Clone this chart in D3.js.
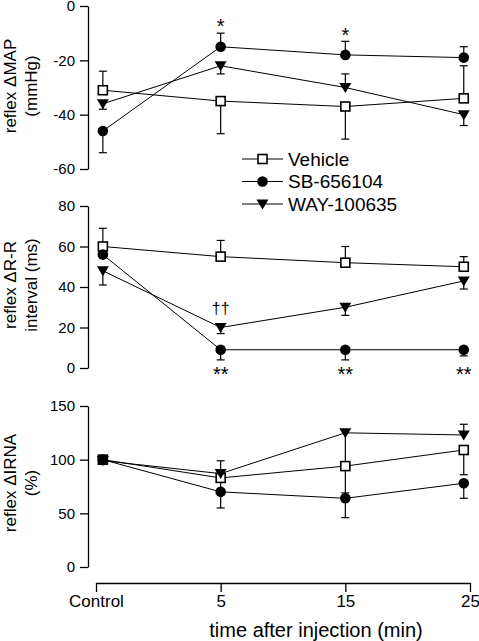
<!DOCTYPE html>
<html><head><meta charset="utf-8">
<script src="https://cdn.jsdelivr.net/npm/d3@7"></script>
<style>body{margin:0;background:#fff}svg{display:block}text{font-family:"Liberation Sans",Arial,sans-serif;fill:#000}</style>
</head><body>
<script>
// ---- data ----
const categories = ["Control", "5", "15", "25"];
const xPos = [0.055, 1, 2, 2.95];
const seriesNames = ["Vehicle", "SB-656104", "WAY-100635"];

const mapVehicle = [-31, -35, -37, -34];
const mapVehicleErr = [-24, -47, -49, -22];
const mapSB = [-46, -15, -18, -19];
const mapSBErr = [-54, -10, -13, -15];
const mapWAY = [-36, -22, -30, -40];
const mapWAYErr = [-38, -25, -25, -44];

const rrVehicle = [60, 55, 52, 50];
const rrVehicleErr = [69, 63, 60, 55];
const rrSB = [56, 9, 9, 9];
const rrSBErr = [56, 4, 4, 6];
const rrWAY = [48, 20, 30, 43];
const rrWAYErr = [41, 17, 26, 39];

const irVehicle = [100, 83, 94, 109];
const irVehicleErr = [100, 72, 69, 86];
const irSB = [100, 70, 64, 78];
const irSBErr = [100, 55, 46, 64];
const irWAY = [99, 87, 125, 123];
const irWAYErr = [99, 99, 95, 133];

const mapTicks = [0, -20, -40, -60];
const rrTicks = [0, 20, 40, 60, 80];
const irTicks = [0, 50, 100, 150];

const mapMarks = [{i: 1, v: -5.7, t: "*"}, {i: 2, v: -9.0, t: "*"}];
const rrMarks = [{i: 1, v: 29.3, t: "\u2020\u2020"}, {i: 1, v: -0.8, t: "**"}, {i: 2, v: -0.8, t: "**"}, {i: 3, v: -0.8, t: "**"}];

// ---- layout ----
const W = 479, H = 641;
const svg = d3.select("body").append("svg").attr("width", W).attr("height", H);
const x = d3.scaleLinear().domain([0, 3]).range([96, 470]);
const axisX = 88;

const panels = [
  {domain: [-60, 0], range: [169, 6], ticks: mapTicks, title: ["reflex \u0394MAP", "(mmHg)"], tc: 86,
   series: [[mapVehicle, mapVehicleErr], [mapSB, mapSBErr], [mapWAY, mapWAYErr]], marks: mapMarks},
  {domain: [0, 80], range: [368, 206], ticks: rrTicks, title: ["reflex \u0394R-R", "interval (ms)"], tc: 285,
   series: [[rrVehicle, rrVehicleErr], [rrSB, rrSBErr], [rrWAY, rrWAYErr]], marks: rrMarks},
  {domain: [0, 150], range: [567, 406], ticks: irTicks, title: ["reflex \u0394IRNA", "(%)"], tc: 483,
   series: [[irVehicle, irVehicleErr], [irSB, irSBErr], [irWAY, irWAYErr]], marks: []}
];

function drawMarker(g, type, cx, cy) {
  if (type === 0) {
    g.append("rect").attr("x", cx - 4.5).attr("y", cy - 4.5).attr("width", 9).attr("height", 9)
      .attr("fill", "#fff").attr("stroke", "#000").attr("stroke-width", 1.6);
  } else if (type === 1) {
    g.append("circle").attr("cx", cx).attr("cy", cy).attr("r", 5.3).attr("fill", "#000");
  } else {
    g.append("path").attr("d", `M${cx - 6},${cy - 4.5}L${cx + 6},${cy - 4.5}L${cx},${cy + 5.5}Z`).attr("fill", "#000");
  }
}

panels.forEach(p => {
  const y = d3.scaleLinear().domain(p.domain).range(p.range);
  const g = svg.append("g");
  const ax = g.append("g").attr("transform", `translate(${axisX},0)`)
    .call(d3.axisLeft(y).tickValues(p.ticks).tickSize(8).tickSizeOuter(0).tickPadding(5).tickFormat(d3.format("d")));
  ax.select(".domain").attr("stroke-width", 1.3);
  ax.selectAll(".tick line").attr("stroke-width", 1.3);
  ax.selectAll("text").style("font-size", "15px").text(d => d < 0 ? "-" + Math.abs(d) : d);

  // y title
  p.title.forEach((t, k) => {
    g.append("text").attr("transform", `translate(${k === 0 ? 10 : 31},${p.tc}) rotate(-90)`)
      .attr("text-anchor", "middle").attr("dominant-baseline", "central")
      .style("font-size", "17px").text(t);
  });

  // series
  p.series.forEach(([vals, errs], s) => {
    const sg = g.append("g");
    sg.append("path").attr("d", d3.line().x((d, i) => x(xPos[i])).y(d => y(d))(vals))
      .attr("fill", "none").attr("stroke", "#000").attr("stroke-width", 1);
    vals.forEach((v, i) => {
      if (errs[i] === v) return;
      const cx = x(xPos[i]);
      sg.append("line").attr("x1", cx).attr("x2", cx).attr("y1", y(v)).attr("y2", y(errs[i]))
        .attr("stroke", "#000").attr("stroke-width", 1.2);
      sg.append("line").attr("x1", cx - 4).attr("x2", cx + 4).attr("y1", y(errs[i])).attr("y2", y(errs[i]))
        .attr("stroke", "#000").attr("stroke-width", 1.2);
    });
  });
  p.series.forEach(([vals], s) => {
    vals.forEach((v, i) => drawMarker(g, s, x(xPos[i]), y(v)));
  });

  // annotations (value = visual centre of the glyphs)
  p.marks.forEach(m => {
    const star = m.t.includes("*");
    g.append("text").attr("x", x(xPos[m.i])).attr("y", y(m.v)).attr("text-anchor", "middle")
      .attr("dominant-baseline", "central").style("font-size", star ? "20px" : "16px")
      .attr("dy", star ? "0.22em" : "0").text(m.t);
  });
});

// bottom axis
const bx = svg.append("g").attr("transform", "translate(0,583)")
  .call(d3.axisBottom(x).tickValues([0, 1, 2, 3]).tickSize(9).tickSizeOuter(0).tickPadding(3).tickFormat((d, i) => categories[i]));
bx.select(".domain").attr("stroke-width", 1.3);
bx.selectAll(".tick line").attr("stroke-width", 1.3);
bx.selectAll("text").style("font-size", "17px");

svg.append("text").attr("x", 316).attr("y", 630).attr("text-anchor", "middle").attr("dominant-baseline", "central")
  .style("font-size", "20px").text("time after injection (min)");

// legend
const lg = svg.append("g");
seriesNames.forEach((n, s) => {
  const ly = 159 + s * 22.5;
  lg.append("line").attr("x1", 242).attr("x2", 283).attr("y1", ly).attr("y2", ly).attr("stroke", "#000").attr("stroke-width", 1);
  drawMarker(lg, s, 262.5, ly);
  lg.append("text").attr("x", 288).attr("y", ly).attr("dominant-baseline", "central").style("font-size", "19px").text(n);
});
</script>
</body></html>
